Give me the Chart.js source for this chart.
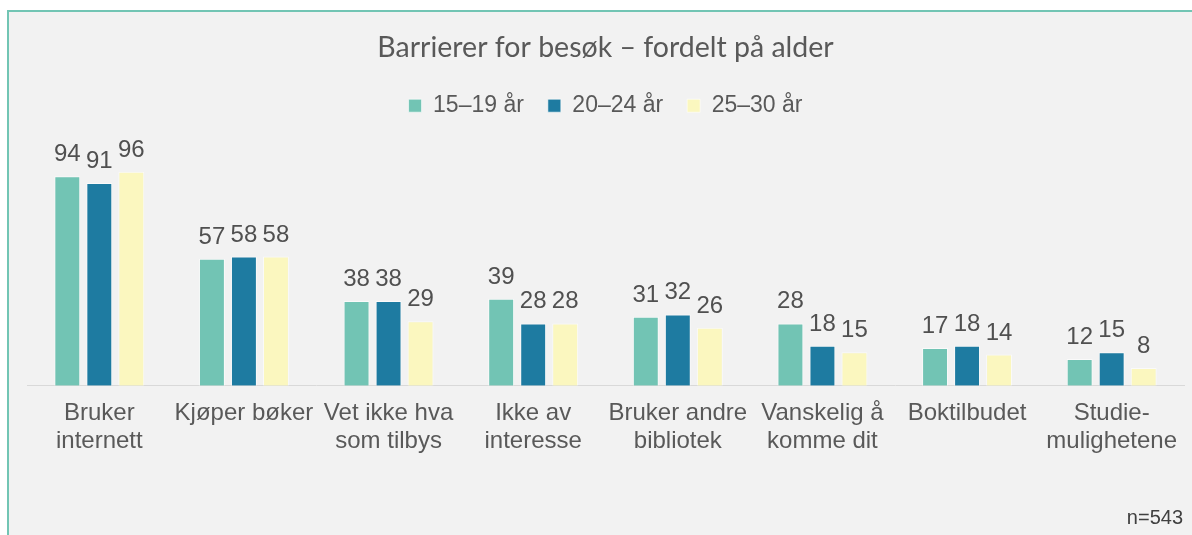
<!DOCTYPE html>
<html>
<head>
<meta charset="utf-8">
<script src="https://cdn.jsdelivr.net/npm/chart.js@4"></script>
<style>
  html, body { margin: 0; padding: 0; background: #ffffff; }
  #frame {
    position: absolute; left: 7px; top: 10px; right: 0; bottom: 0;
    background: #f2f2f2;
    border-left: 2px solid #72c5b4;
    border-top: 2px solid #72c5b4;
  }
  #wrap { position: absolute; left: 0; top: 0; width: 1192px; height: 535px; }
  #note {
    position: absolute; right: 9px; top: 507px;
    font: 20px "Liberation Sans", Arial, sans-serif; line-height: 20px;
    color: #404040;
  }
</style>
</head>
<body>
<div id="frame"></div>
<div id="wrap"><canvas id="chart" width="1192" height="535"></canvas></div>
<div id="note">n=543</div>
<script>
const categories = [
  ["Bruker", "internett"],
  ["Kjøper bøker"],
  ["Vet ikke hva", "som tilbys"],
  ["Ikke av", "interesse"],
  ["Bruker andre", "bibliotek"],
  ["Vanskelig å", "komme dit"],
  ["Boktilbudet"],
  ["Studie-", "mulighetene"]
];
const seriesNames = ["15–19 år", "20–24 år", "25–30 år"];
const age15to19 = [94, 57, 38, 39, 31, 28, 17, 12];
const age20to24 = [91, 58, 38, 28, 32, 18, 18, 15];
const age25to30 = [96, 58, 29, 28, 26, 15, 14, 8];
const colors = ["#72c4b4", "#1e7ba1", "#fbf7bf"];

const valueLabels = {
  id: "valueLabels",
  afterDatasetsDraw(chart) {
    const ctx = chart.ctx;
    ctx.save();
    ctx.font = '24px "Liberation Sans", Arial, sans-serif';
    ctx.fillStyle = "#505050";
    ctx.textAlign = "center";
    ctx.textBaseline = "alphabetic";
    chart.data.datasets.forEach((ds, i) => {
      chart.getDatasetMeta(i).data.forEach((bar, j) => {
        ctx.fillText(ds.data[j], bar.x, bar.y - 15);
      });
    });
    ctx.restore();
  }
};

new Chart(document.getElementById("chart"), {
  type: "bar",
  data: {
    labels: categories,
    datasets: [age15to19, age20to24, age25to30].map((d, i) => ({
      label: seriesNames[i],
      data: d,
      backgroundColor: colors[i],
      borderColor: "rgba(255,255,255,0.6)",
      borderWidth: 1,
      barPercentage: 0.81,
      categoryPercentage: 0.664
    }))
  },
  options: {
    responsive: false,
    animation: false,
    layout: { padding: { left: 27, right: 8, top: 0, bottom: 66 } },
    plugins: {
      title: {
        display: true,
        text: "Barrierer for besøk – fordelt på alder",
        color: "#595959",
        font: { family: "Lato", size: 28.5, weight: "normal" },
        padding: { top: 31, bottom: 5 }
      },
      legend: {
        position: "top",
        labels: {
          color: "#595959",
          font: { family: "Liberation Sans", size: 23 },
          boxWidth: 13,
          boxHeight: 13,
          padding: 24
        }
      },
      tooltip: { enabled: false }
    },
    scales: {
      x: {
        grid: { display: false, drawTicks: false },
        border: { display: true, color: "#d9d9d9", width: 1 },
        ticks: {
          color: "#595959",
          font: { family: "Liberation Sans", size: 24, lineHeight: 1.15 },
          padding: 14,
          maxRotation: 0,
          autoSkip: false
        }
      },
      y: {
        display: false,
        min: 0,
        max: 116
      }
    }
  },
  plugins: [valueLabels]
});
</script>
</body>
</html>
